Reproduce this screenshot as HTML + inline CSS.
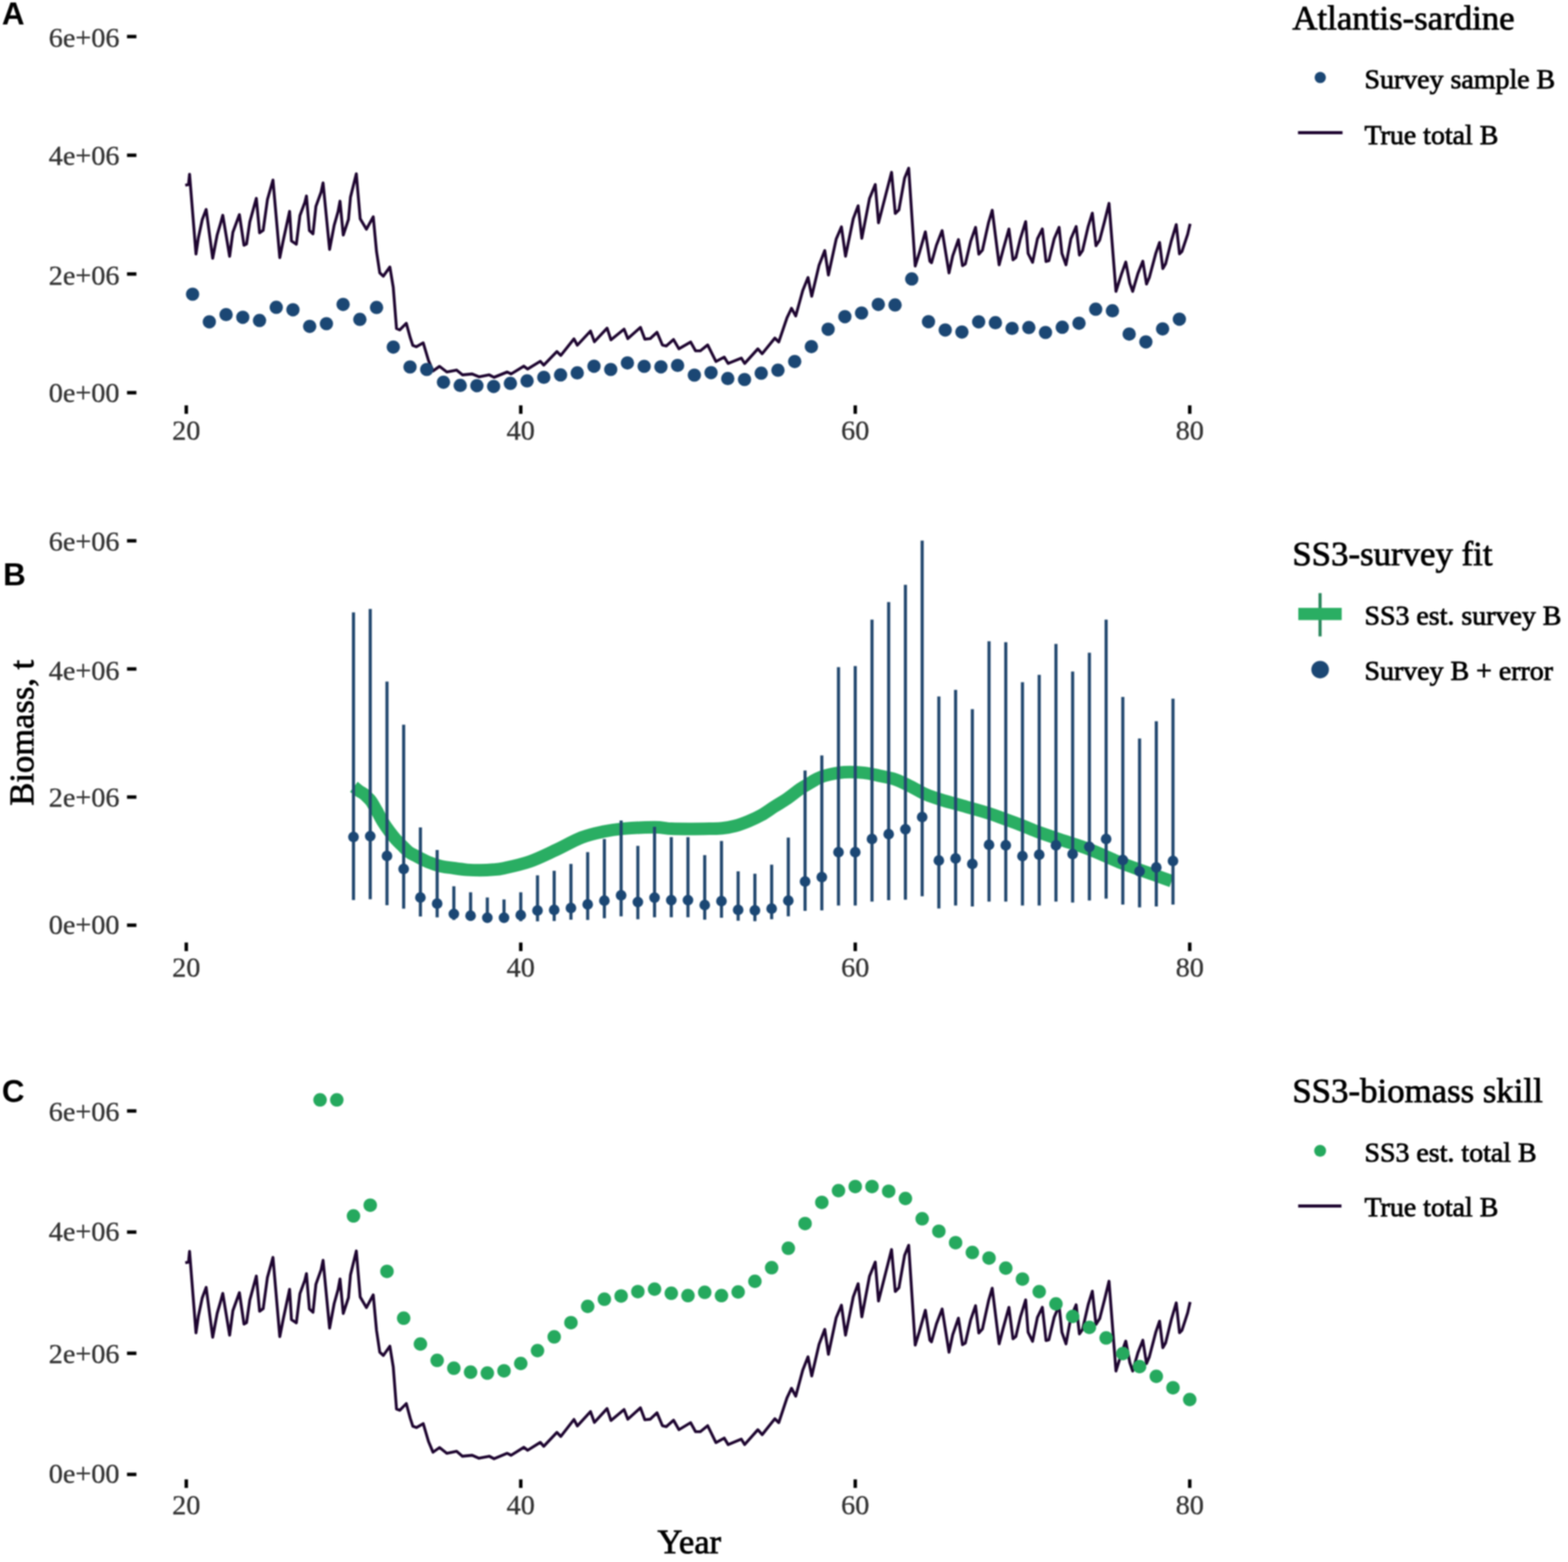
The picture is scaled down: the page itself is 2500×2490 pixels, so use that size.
<!DOCTYPE html><html><head><meta charset="utf-8"><style>html,body{margin:0;padding:0;background:#fff;}svg{display:block;filter:blur(0.8px)}</style></head><body>
<svg xmlns="http://www.w3.org/2000/svg" width="2500" height="2490" viewBox="0 0 2500 2490">
<rect width="2500" height="2490" fill="#fff"/>
<g font-family="Liberation Sans, Arial, sans-serif" font-weight="bold" font-size="50" fill="#000">
<text x="3" y="39">A</text><text x="5" y="933">B</text><text x="3" y="1757">C</text></g>
<g font-family="Liberation Serif, Times New Roman, serif" font-size="45" fill="#333333" stroke="#333333" stroke-width="0.5">
<line x1="202.5" y1="626.0" x2="217.5" y2="626.0" stroke="#000" stroke-width="5.5"/>
<text x="190.5" y="640.6" text-anchor="end">0e+00</text>
<line x1="202.5" y1="436.8" x2="217.5" y2="436.8" stroke="#000" stroke-width="5.5"/>
<text x="190.5" y="453.6" text-anchor="end">2e+06</text>
<line x1="202.5" y1="247.5" x2="217.5" y2="247.5" stroke="#000" stroke-width="5.5"/>
<text x="190.5" y="262.5" text-anchor="end">4e+06</text>
<line x1="202.5" y1="58.3" x2="217.5" y2="58.3" stroke="#000" stroke-width="5.5"/>
<text x="190.5" y="75.2" text-anchor="end">6e+06</text>
<line x1="297" y1="646.2" x2="297" y2="659.7" stroke="#000" stroke-width="5.5"/>
<text x="297" y="700.9" text-anchor="middle">20</text>
<line x1="830.3" y1="646.2" x2="830.3" y2="659.7" stroke="#000" stroke-width="5.5"/>
<text x="830.3" y="700.9" text-anchor="middle">40</text>
<line x1="1363.6" y1="646.2" x2="1363.6" y2="659.7" stroke="#000" stroke-width="5.5"/>
<text x="1363.6" y="700.9" text-anchor="middle">60</text>
<line x1="1896.9" y1="646.2" x2="1896.9" y2="659.7" stroke="#000" stroke-width="5.5"/>
<text x="1896.9" y="700.9" text-anchor="middle">80</text>
<line x1="202.5" y1="1474.9" x2="217.5" y2="1474.9" stroke="#000" stroke-width="5.5"/>
<text x="190.5" y="1488.9" text-anchor="end">0e+00</text>
<line x1="202.5" y1="1270.6" x2="217.5" y2="1270.6" stroke="#000" stroke-width="5.5"/>
<text x="190.5" y="1286.3" text-anchor="end">2e+06</text>
<line x1="202.5" y1="1066.4" x2="217.5" y2="1066.4" stroke="#000" stroke-width="5.5"/>
<text x="190.5" y="1083.9" text-anchor="end">4e+06</text>
<line x1="202.5" y1="862.1" x2="217.5" y2="862.1" stroke="#000" stroke-width="5.5"/>
<text x="190.5" y="877.5" text-anchor="end">6e+06</text>
<line x1="297" y1="1502.5" x2="297" y2="1516.2" stroke="#000" stroke-width="5.5"/>
<text x="297" y="1556.8" text-anchor="middle">20</text>
<line x1="830.3" y1="1502.5" x2="830.3" y2="1516.2" stroke="#000" stroke-width="5.5"/>
<text x="830.3" y="1556.8" text-anchor="middle">40</text>
<line x1="1363.6" y1="1502.5" x2="1363.6" y2="1516.2" stroke="#000" stroke-width="5.5"/>
<text x="1363.6" y="1556.8" text-anchor="middle">60</text>
<line x1="1896.9" y1="1502.5" x2="1896.9" y2="1516.2" stroke="#000" stroke-width="5.5"/>
<text x="1896.9" y="1556.8" text-anchor="middle">80</text>
<line x1="202.5" y1="2350.4" x2="217.5" y2="2350.4" stroke="#000" stroke-width="5.5"/>
<text x="190.5" y="2363.9" text-anchor="end">0e+00</text>
<line x1="202.5" y1="2157.3" x2="217.5" y2="2157.3" stroke="#000" stroke-width="5.5"/>
<text x="190.5" y="2172.5" text-anchor="end">2e+06</text>
<line x1="202.5" y1="1964.1" x2="217.5" y2="1964.1" stroke="#000" stroke-width="5.5"/>
<text x="190.5" y="1977.7" text-anchor="end">4e+06</text>
<line x1="202.5" y1="1771.0" x2="217.5" y2="1771.0" stroke="#000" stroke-width="5.5"/>
<text x="190.5" y="1786.6" text-anchor="end">6e+06</text>
<line x1="297" y1="2358.3" x2="297" y2="2371.9" stroke="#000" stroke-width="5.5"/>
<text x="297" y="2413.8" text-anchor="middle">20</text>
<line x1="830.3" y1="2358.3" x2="830.3" y2="2371.9" stroke="#000" stroke-width="5.5"/>
<text x="830.3" y="2413.8" text-anchor="middle">40</text>
<line x1="1363.6" y1="2358.3" x2="1363.6" y2="2371.9" stroke="#000" stroke-width="5.5"/>
<text x="1363.6" y="2413.8" text-anchor="middle">60</text>
<line x1="1896.9" y1="2358.3" x2="1896.9" y2="2371.9" stroke="#000" stroke-width="5.5"/>
<text x="1896.9" y="2413.8" text-anchor="middle">80</text>
</g>
<g font-family="Liberation Serif, Times New Roman, serif" font-size="55" fill="#000" stroke="#000" stroke-width="1.2">
<text x="1099" y="2476" text-anchor="middle">Year</text>
<text transform="translate(53,1168) rotate(-90)" text-anchor="middle">Biomass, t</text>
</g>
<polyline points="295.4,295.3 300.6,294.3 302.2,277.7 312.5,405.0 316.2,379.5 322.4,350.4 328.7,333.8 339.1,411.8 346.3,374.3 351.5,356.7 355.2,343.2 366.1,408.6 371.3,370.3 381.7,342.1 389.0,391.0 393.1,388.9 398.3,353.6 408.7,316.1 413.9,371.2 419.6,367.1 426.4,318.2 435.2,287.0 446.1,410.7 451.3,384.8 461.7,336.9 464.7,384.1 472.5,389.3 478.2,343.6 486.0,322.8 488.6,312.4 493.3,367.5 499.0,372.7 503.7,329.0 512.0,306.1 515.1,291.6 525.5,397.6 532.8,359.1 539.0,337.3 542.1,320.7 547.3,374.7 555.6,349.8 558.8,314.4 568.1,277.0 574.3,348.8 584.2,365.4 595.1,345.6 600.3,400.7 605.5,435.0 611.2,440.2 621.6,425.7 627.0,458.2 632.2,523.7 637.4,525.8 647.8,515.4 654.1,538.3 658.2,550.7 663.9,552.8 674.8,546.6 683.2,574.6 690.4,591.3 700.8,584.0 712.4,593.0 728.0,589.9 737.3,597.6 752.8,596.1 763.7,600.7 780.0,597.6 787.7,601.5 808.7,593.0 814.9,596.1 835.1,583.7 841.3,588.3 861.5,575.9 866.9,582.1 887.9,560.4 894.1,566.6 915.1,540.2 920.5,550.3 941.5,527.8 947.7,544.8 967.9,523.1 974.1,541.7 995.0,524.7 1001.0,539.8 1021.1,521.9 1028.1,540.6 1036.7,539.8 1047.5,529.7 1056.1,549.9 1062.3,551.4 1073.9,541.3 1082.5,556.1 1101.1,545.2 1108.9,559.2 1116.6,559.2 1128.3,549.9 1141.5,576.3 1154.7,569.3 1160.9,579.4 1181.9,570.8 1187.3,579.4 1208.3,556.1 1215.2,563.9 1235.4,539.0 1241.6,545.2 1254.8,506.4 1262.0,491.5 1268.7,503.7 1279.9,463.1 1288.3,442.3 1294.2,472.2 1305.9,422.8 1315.0,399.4 1320.8,438.4 1333.2,381.2 1341.6,361.7 1348.1,408.5 1360.4,348.8 1368.2,328.0 1374.1,379.9 1386.4,316.3 1395.5,294.2 1400.7,355.2 1412.4,309.8 1421.5,274.7 1427.4,340.3 1433.2,334.5 1442.3,283.8 1448.8,268.2 1459.2,424.1 1465.7,403.3 1475.4,369.5 1482.6,416.3 1485.2,418.9 1493.0,391.0 1502.1,367.6 1513.1,435.1 1519.0,407.9 1528.1,381.9 1534.6,423.4 1539.1,420.8 1547.6,384.5 1555.4,362.4 1560.6,405.2 1566.4,398.8 1576.2,354.6 1582.0,335.1 1593.0,422.1 1599.5,397.5 1608.6,365.0 1615.1,414.3 1619.7,410.4 1626.8,380.6 1635.3,353.3 1639.2,404.0 1646.3,418.2 1654.1,380.6 1661.9,365.0 1667.8,416.9 1672.3,415.6 1680.8,380.6 1688.6,362.4 1693.1,404.0 1699.6,422.1 1707.4,380.6 1715.8,361.1 1721.0,406.6 1726.0,399.5 1735.1,360.6 1741.6,339.8 1747.4,391.7 1753.3,382.7 1761.1,352.8 1768.2,324.2 1779.3,464.5 1788.4,435.9 1794.9,417.7 1801.4,451.5 1805.9,464.5 1814.3,435.9 1822.1,416.4 1828.0,452.8 1832.5,442.4 1842.9,403.4 1848.8,386.5 1854.0,428.1 1858.5,420.3 1867.6,384.0 1875.4,358.0 1880.6,404.7 1884.5,400.8 1893.6,373.6 1897.5,356.7" fill="none" stroke="#1e0530" stroke-width="4.6" stroke-linejoin="round" stroke-linecap="butt"/>
<g fill="#1b4774"><circle cx="307.1" cy="469.0" r="10.6"/><circle cx="333.8" cy="513.1" r="10.6"/><circle cx="360.5" cy="501.5" r="10.6"/><circle cx="387.1" cy="505.8" r="10.6"/><circle cx="413.8" cy="510.9" r="10.6"/><circle cx="440.5" cy="489.9" r="10.6"/><circle cx="467.1" cy="493.8" r="10.6"/><circle cx="493.8" cy="520.3" r="10.6"/><circle cx="520.5" cy="516.0" r="10.6"/><circle cx="547.1" cy="485.3" r="10.6"/><circle cx="573.8" cy="509.2" r="10.6"/><circle cx="600.4" cy="490.2" r="10.6"/><circle cx="627.1" cy="553.3" r="10.6"/><circle cx="653.8" cy="585.0" r="10.6"/><circle cx="680.4" cy="589.0" r="10.6"/><circle cx="707.1" cy="609.3" r="10.6"/><circle cx="733.8" cy="614.4" r="10.6"/><circle cx="760.4" cy="614.8" r="10.6"/><circle cx="787.1" cy="616.1" r="10.6"/><circle cx="813.8" cy="611.2" r="10.6"/><circle cx="840.4" cy="607.2" r="10.6"/><circle cx="867.1" cy="601.5" r="10.6"/><circle cx="893.8" cy="597.7" r="10.6"/><circle cx="920.4" cy="594.4" r="10.6"/><circle cx="947.1" cy="583.8" r="10.6"/><circle cx="973.8" cy="589.0" r="10.6"/><circle cx="1000.4" cy="578.6" r="10.6"/><circle cx="1027.1" cy="584.0" r="10.6"/><circle cx="1053.8" cy="584.8" r="10.6"/><circle cx="1080.4" cy="582.5" r="10.6"/><circle cx="1107.1" cy="598.0" r="10.6"/><circle cx="1133.7" cy="594.1" r="10.6"/><circle cx="1160.4" cy="603.4" r="10.6"/><circle cx="1187.1" cy="605.0" r="10.6"/><circle cx="1213.7" cy="594.9" r="10.6"/><circle cx="1240.4" cy="590.2" r="10.6"/><circle cx="1267.1" cy="576.3" r="10.6"/><circle cx="1293.7" cy="552.6" r="10.6"/><circle cx="1320.4" cy="524.8" r="10.6"/><circle cx="1347.1" cy="504.8" r="10.6"/><circle cx="1373.7" cy="499.0" r="10.6"/><circle cx="1400.4" cy="485.3" r="10.6"/><circle cx="1427.1" cy="486.2" r="10.6"/><circle cx="1453.7" cy="444.7" r="10.6"/><circle cx="1480.4" cy="512.8" r="10.6"/><circle cx="1507.1" cy="526.1" r="10.6"/><circle cx="1533.7" cy="529.3" r="10.6"/><circle cx="1560.4" cy="513.1" r="10.6"/><circle cx="1587.1" cy="514.4" r="10.6"/><circle cx="1613.7" cy="523.5" r="10.6"/><circle cx="1640.4" cy="522.2" r="10.6"/><circle cx="1667.0" cy="530.0" r="10.6"/><circle cx="1693.7" cy="521.7" r="10.6"/><circle cx="1720.4" cy="515.3" r="10.6"/><circle cx="1747.0" cy="492.9" r="10.6"/><circle cx="1773.7" cy="495.4" r="10.6"/><circle cx="1800.4" cy="532.6" r="10.6"/><circle cx="1827.0" cy="545.1" r="10.6"/><circle cx="1853.7" cy="524.3" r="10.6"/><circle cx="1880.4" cy="508.8" r="10.6"/></g>
<path d="M564.2,1254.3 C565.5,1255.3 569.0,1258.3 571.8,1260.3 C574.6,1262.3 578.5,1264.2 580.9,1266.1 C583.3,1268.0 584.6,1269.7 586.4,1271.5 C588.2,1273.3 589.4,1273.8 591.8,1277.2 C594.1,1280.6 597.4,1286.5 600.5,1292.0 C603.6,1297.5 607.0,1304.5 610.4,1310.0 C613.8,1315.5 617.2,1320.3 620.7,1325.0 C624.2,1329.7 627.7,1334.1 631.1,1338.0 C634.5,1341.9 638.0,1344.9 641.4,1348.3 C644.8,1351.7 648.3,1355.6 651.8,1358.2 C655.2,1360.8 656.9,1361.2 662.1,1363.9 C667.3,1366.6 675.9,1371.4 682.8,1374.2 C689.7,1377.0 696.6,1379.3 703.5,1380.9 C710.4,1382.5 717.3,1383.0 724.2,1384.0 C731.1,1385.0 738.0,1386.0 744.9,1386.6 C751.8,1387.1 758.7,1387.3 765.6,1387.3 C772.5,1387.2 780.2,1386.8 786.3,1386.3 C792.4,1385.8 792.8,1386.3 802.4,1384.2 C812.0,1382.1 830.1,1378.4 844.0,1373.6 C857.9,1368.8 871.6,1361.8 885.5,1355.4 C899.4,1349.0 914.5,1340.0 927.1,1335.1 C939.7,1330.2 950.3,1328.1 961.2,1325.8 C972.1,1323.5 978.6,1322.3 992.4,1321.1 C1006.2,1319.9 1030.8,1318.8 1043.8,1318.8 C1056.8,1318.8 1060.7,1320.6 1070.3,1321.1 C1079.9,1321.5 1091.4,1321.5 1101.5,1321.5 C1111.6,1321.5 1122.7,1321.3 1131.1,1321.1 C1139.5,1320.9 1144.9,1321.1 1151.8,1320.3 C1158.7,1319.5 1165.6,1318.3 1172.5,1316.5 C1179.4,1314.7 1186.3,1312.0 1193.2,1309.2 C1200.1,1306.4 1207.0,1303.3 1213.9,1299.4 C1220.8,1295.5 1227.7,1290.3 1234.6,1285.9 C1241.5,1281.5 1248.4,1277.7 1255.3,1273.0 C1262.2,1268.3 1270.2,1261.5 1276.0,1257.5 C1281.8,1253.5 1286.0,1251.4 1290.0,1249.0 C1294.0,1246.6 1295.9,1245.1 1300.0,1243.0 C1304.1,1240.9 1307.1,1238.6 1314.8,1236.6 C1322.5,1234.6 1335.5,1231.8 1345.9,1231.0 C1356.3,1230.2 1367.7,1231.0 1377.0,1231.9 C1386.3,1232.8 1393.5,1234.9 1401.8,1236.6 C1410.1,1238.3 1418.3,1239.4 1426.6,1242.2 C1434.9,1245.0 1443.2,1249.4 1451.5,1253.4 C1459.8,1257.4 1468.0,1262.8 1476.3,1266.4 C1484.6,1270.0 1492.2,1272.3 1501.2,1275.1 C1510.2,1277.9 1517.2,1279.6 1530.0,1283.2 C1542.8,1286.8 1562.1,1291.8 1577.9,1296.9 C1593.7,1302.1 1611.7,1309.2 1624.7,1314.1 C1637.7,1319.0 1645.0,1322.5 1655.9,1326.5 C1666.8,1330.5 1676.5,1333.7 1690.0,1338.2 C1703.5,1342.8 1720.2,1347.4 1736.8,1353.8 C1753.4,1360.2 1772.0,1369.5 1789.8,1376.5 C1807.6,1383.5 1830.5,1391.2 1843.5,1395.9 C1856.5,1400.6 1863.9,1403.2 1868.0,1404.7" fill="none" stroke="#2aae63" stroke-width="20" stroke-linejoin="round" stroke-linecap="butt"/>
<g stroke="#22486f" stroke-width="5" stroke-linecap="butt"><line x1="563.6" y1="976.2" x2="563.6" y2="1434.8"/><line x1="590.3" y1="970.7" x2="590.3" y2="1433.5"/><line x1="617.0" y1="1086.4" x2="617.0" y2="1443.1"/><line x1="643.6" y1="1155.2" x2="643.6" y2="1448.6"/><line x1="670.3" y1="1319.1" x2="670.3" y2="1461"/><line x1="697.0" y1="1355" x2="697.0" y2="1462.4"/><line x1="723.6" y1="1412.8" x2="723.6" y2="1466.5"/><line x1="750.3" y1="1422.4" x2="750.3" y2="1468"/><line x1="777.0" y1="1430.7" x2="777.0" y2="1469"/><line x1="803.6" y1="1433.8" x2="803.6" y2="1469"/><line x1="830.3" y1="1422.4" x2="830.3" y2="1468.5"/><line x1="857.0" y1="1395.4" x2="857.0" y2="1468.7"/><line x1="883.6" y1="1388.1" x2="883.6" y2="1468.2"/><line x1="910.3" y1="1377.2" x2="910.3" y2="1466.1"/><line x1="937.0" y1="1358.4" x2="937.0" y2="1466.5"/><line x1="963.6" y1="1337.5" x2="963.6" y2="1463.8"/><line x1="990.3" y1="1307.9" x2="990.3" y2="1460.7"/><line x1="1017.0" y1="1348.4" x2="1017.0" y2="1465.4"/><line x1="1043.6" y1="1318" x2="1043.6" y2="1462.2"/><line x1="1070.3" y1="1334.4" x2="1070.3" y2="1462.2"/><line x1="1096.9" y1="1334.4" x2="1096.9" y2="1462.2"/><line x1="1123.6" y1="1363.2" x2="1123.6" y2="1466.1"/><line x1="1150.3" y1="1340.6" x2="1150.3" y2="1463"/><line x1="1176.9" y1="1389" x2="1176.9" y2="1467.7"/><line x1="1203.6" y1="1392.8" x2="1203.6" y2="1468.5"/><line x1="1230.3" y1="1378.4" x2="1230.3" y2="1465.4"/><line x1="1256.9" y1="1335.2" x2="1256.9" y2="1460.7"/><line x1="1283.6" y1="1228.3" x2="1283.6" y2="1452.1"/><line x1="1310.3" y1="1204.2" x2="1310.3" y2="1451.3"/><line x1="1336.9" y1="1063.5" x2="1336.9" y2="1443.5"/><line x1="1363.6" y1="1061.7" x2="1363.6" y2="1443.5"/><line x1="1390.3" y1="987.8" x2="1390.3" y2="1437.3"/><line x1="1416.9" y1="959.7" x2="1416.9" y2="1435"/><line x1="1443.6" y1="932.2" x2="1443.6" y2="1434.2"/><line x1="1470.3" y1="861.8" x2="1470.3" y2="1428.7"/><line x1="1496.9" y1="1110.3" x2="1496.9" y2="1448.2"/><line x1="1523.6" y1="1099.8" x2="1523.6" y2="1443.4"/><line x1="1550.3" y1="1130.4" x2="1550.3" y2="1445"/><line x1="1576.9" y1="1022.3" x2="1576.9" y2="1437.2"/><line x1="1603.6" y1="1023.7" x2="1603.6" y2="1437.2"/><line x1="1630.2" y1="1087.4" x2="1630.2" y2="1443.4"/><line x1="1656.9" y1="1075.8" x2="1656.9" y2="1443.4"/><line x1="1683.6" y1="1026.5" x2="1683.6" y2="1437.2"/><line x1="1710.2" y1="1070.5" x2="1710.2" y2="1438.8"/><line x1="1736.9" y1="1040.6" x2="1736.9" y2="1435.6"/><line x1="1763.6" y1="987.8" x2="1763.6" y2="1432.5"/><line x1="1790.2" y1="1111" x2="1790.2" y2="1441.9"/><line x1="1816.9" y1="1177.2" x2="1816.9" y2="1446.6"/><line x1="1843.6" y1="1149.7" x2="1843.6" y2="1445"/><line x1="1870.2" y1="1113.8" x2="1870.2" y2="1441.9"/></g>
<g fill="#1b4774"><circle cx="563.6" cy="1334.3" r="8.5"/><circle cx="590.3" cy="1332.9" r="8.5"/><circle cx="617.0" cy="1364.6" r="8.5"/><circle cx="643.6" cy="1385.3" r="8.5"/><circle cx="670.3" cy="1430.7" r="8.5"/><circle cx="697.0" cy="1440.4" r="8.5"/><circle cx="723.6" cy="1456.9" r="8.5"/><circle cx="750.3" cy="1459.8" r="8.5"/><circle cx="777.0" cy="1463" r="8.5"/><circle cx="803.6" cy="1463" r="8.5"/><circle cx="830.3" cy="1458.8" r="8.5"/><circle cx="857.0" cy="1451.5" r="8.5"/><circle cx="883.6" cy="1450.5" r="8.5"/><circle cx="910.3" cy="1447.4" r="8.5"/><circle cx="937.0" cy="1441.7" r="8.5"/><circle cx="963.6" cy="1435.7" r="8.5"/><circle cx="990.3" cy="1427.2" r="8.5"/><circle cx="1017.0" cy="1438.1" r="8.5"/><circle cx="1043.6" cy="1431" r="8.5"/><circle cx="1070.3" cy="1435" r="8.5"/><circle cx="1096.9" cy="1435" r="8.5"/><circle cx="1123.6" cy="1442.7" r="8.5"/><circle cx="1150.3" cy="1436.5" r="8.5"/><circle cx="1176.9" cy="1450.5" r="8.5"/><circle cx="1203.6" cy="1451.3" r="8.5"/><circle cx="1230.3" cy="1448.6" r="8.5"/><circle cx="1256.9" cy="1435.7" r="8.5"/><circle cx="1283.6" cy="1405.3" r="8.5"/><circle cx="1310.3" cy="1398.3" r="8.5"/><circle cx="1336.9" cy="1358.5" r="8.5"/><circle cx="1363.6" cy="1358.5" r="8.5"/><circle cx="1390.3" cy="1337.5" r="8.5"/><circle cx="1416.9" cy="1329.7" r="8.5"/><circle cx="1443.6" cy="1321.9" r="8.5"/><circle cx="1470.3" cy="1302.4" r="8.5"/><circle cx="1496.9" cy="1371.8" r="8.5"/><circle cx="1523.6" cy="1368.6" r="8.5"/><circle cx="1550.3" cy="1377.2" r="8.5"/><circle cx="1576.9" cy="1346.8" r="8.5"/><circle cx="1603.6" cy="1347.6" r="8.5"/><circle cx="1630.2" cy="1364.7" r="8.5"/><circle cx="1656.9" cy="1362.4" r="8.5"/><circle cx="1683.6" cy="1347.6" r="8.5"/><circle cx="1710.2" cy="1361.6" r="8.5"/><circle cx="1736.9" cy="1349.9" r="8.5"/><circle cx="1763.6" cy="1337.4" r="8.5"/><circle cx="1790.2" cy="1371" r="8.5"/><circle cx="1816.9" cy="1388.9" r="8.5"/><circle cx="1843.6" cy="1382.7" r="8.5"/><circle cx="1870.2" cy="1372.5" r="8.5"/></g>
<polyline points="295.4,2012.9 300.6,2011.9 302.2,1994.9 312.5,2124.8 316.2,2098.8 322.4,2069.1 328.7,2052.2 339.1,2131.8 346.3,2093.5 351.5,2075.5 355.2,2061.8 366.1,2128.5 371.3,2089.4 381.7,2060.6 389.0,2110.6 393.1,2108.4 398.3,2072.4 408.7,2034.1 413.9,2090.3 419.6,2086.2 426.4,2036.3 435.2,2004.4 446.1,2130.7 451.3,2104.2 461.7,2055.3 464.7,2103.5 472.5,2108.8 478.2,2062.2 486.0,2041.0 488.6,2030.3 493.3,2086.6 499.0,2091.9 503.7,2047.3 512.0,2023.9 515.1,2009.1 525.5,2117.3 532.8,2078.0 539.0,2055.8 542.1,2038.8 547.3,2093.9 555.6,2068.5 558.8,2032.4 568.1,1994.2 574.3,2067.5 584.2,2084.4 595.1,2064.2 600.3,2120.5 605.5,2155.5 611.2,2160.8 621.6,2146.0 627.0,2179.1 632.2,2246.0 637.4,2248.1 647.8,2237.5 654.1,2260.9 658.2,2273.5 663.9,2275.7 674.8,2269.4 683.2,2297.9 690.4,2315.0 700.8,2307.5 712.4,2316.7 728.0,2313.6 737.3,2321.4 752.8,2319.9 763.7,2324.6 780.0,2321.4 787.7,2325.4 808.7,2316.7 814.9,2319.9 835.1,2307.2 841.3,2311.9 861.5,2299.3 866.9,2305.6 887.9,2283.4 894.1,2289.8 915.1,2262.8 920.5,2273.1 941.5,2250.2 947.7,2267.5 967.9,2245.4 974.1,2264.4 995.0,2247.0 1001.0,2262.4 1021.1,2244.2 1028.1,2263.2 1036.7,2262.4 1047.5,2252.1 1056.1,2272.7 1062.3,2274.3 1073.9,2264.0 1082.5,2279.1 1101.1,2267.9 1108.9,2282.2 1116.6,2282.2 1128.3,2272.7 1141.5,2299.7 1154.7,2292.5 1160.9,2302.8 1181.9,2294.1 1187.3,2302.8 1208.3,2279.1 1215.2,2287.0 1235.4,2261.6 1241.6,2267.9 1254.8,2228.3 1262.0,2213.1 1268.7,2225.6 1279.9,2184.1 1288.3,2162.9 1294.2,2193.4 1305.9,2143.0 1315.0,2119.1 1320.8,2158.9 1333.2,2100.6 1341.6,2080.7 1348.1,2128.4 1360.4,2067.5 1368.2,2046.3 1374.1,2099.2 1386.4,2034.3 1395.5,2011.8 1400.7,2074.0 1412.4,2027.7 1421.5,1991.9 1427.4,2058.8 1433.2,2052.9 1442.3,2001.1 1448.8,1985.2 1459.2,2144.3 1465.7,2123.1 1475.4,2088.6 1482.6,2136.4 1485.2,2139.0 1493.0,2110.6 1502.1,2086.7 1513.1,2155.6 1519.0,2127.8 1528.1,2101.3 1534.6,2143.6 1539.1,2141.0 1547.6,2103.9 1555.4,2081.4 1560.6,2125.0 1566.4,2118.5 1576.2,2073.4 1582.0,2053.5 1593.0,2142.3 1599.5,2117.2 1608.6,2084.0 1615.1,2134.3 1619.7,2130.4 1626.8,2099.9 1635.3,2072.1 1639.2,2123.8 1646.3,2138.3 1654.1,2099.9 1661.9,2084.0 1667.8,2137.0 1672.3,2135.7 1680.8,2099.9 1688.6,2081.4 1693.1,2123.8 1699.6,2142.3 1707.4,2099.9 1715.8,2080.0 1721.0,2126.5 1726.0,2119.2 1735.1,2079.5 1741.6,2058.3 1747.4,2111.3 1753.3,2102.1 1761.1,2071.6 1768.2,2042.4 1779.3,2185.6 1788.4,2156.4 1794.9,2137.8 1801.4,2172.3 1805.9,2185.6 1814.3,2156.4 1822.1,2136.5 1828.0,2173.6 1832.5,2163.0 1842.9,2123.2 1848.8,2106.0 1854.0,2148.4 1858.5,2140.5 1867.6,2103.4 1875.4,2076.9 1880.6,2124.5 1884.5,2120.6 1893.6,2092.8 1897.5,2075.5" fill="none" stroke="#1e0530" stroke-width="4.6" stroke-linejoin="round" stroke-linecap="butt"/>
<g fill="#25a95e"><circle cx="510.3" cy="1753.3" r="10.75"/><circle cx="537.0" cy="1753.3" r="10.75"/><circle cx="563.6" cy="1938.3" r="10.75"/><circle cx="590.3" cy="1921.2" r="10.75"/><circle cx="617.0" cy="2026.7" r="10.75"/><circle cx="643.6" cy="2101.3" r="10.75"/><circle cx="670.3" cy="2142.5" r="10.75"/><circle cx="697.0" cy="2168.6" r="10.75"/><circle cx="723.6" cy="2181.1" r="10.75"/><circle cx="750.3" cy="2187.3" r="10.75"/><circle cx="777.0" cy="2188.8" r="10.75"/><circle cx="803.6" cy="2185.2" r="10.75"/><circle cx="830.3" cy="2173.5" r="10.75"/><circle cx="857.0" cy="2153" r="10.75"/><circle cx="883.6" cy="2131.1" r="10.75"/><circle cx="910.3" cy="2108.4" r="10.75"/><circle cx="937.0" cy="2082.5" r="10.75"/><circle cx="963.6" cy="2071.1" r="10.75"/><circle cx="990.3" cy="2065.9" r="10.75"/><circle cx="1017.0" cy="2058.9" r="10.75"/><circle cx="1043.6" cy="2055" r="10.75"/><circle cx="1070.3" cy="2061.6" r="10.75"/><circle cx="1096.9" cy="2065.3" r="10.75"/><circle cx="1123.6" cy="2060.1" r="10.75"/><circle cx="1150.3" cy="2065.3" r="10.75"/><circle cx="1176.9" cy="2059.5" r="10.75"/><circle cx="1203.6" cy="2042.5" r="10.75"/><circle cx="1230.3" cy="2020.8" r="10.75"/><circle cx="1256.9" cy="1989.8" r="10.75"/><circle cx="1283.6" cy="1950.4" r="10.75"/><circle cx="1310.3" cy="1916.7" r="10.75"/><circle cx="1336.9" cy="1898" r="10.75"/><circle cx="1363.6" cy="1891.4" r="10.75"/><circle cx="1390.3" cy="1891.4" r="10.75"/><circle cx="1416.9" cy="1898.9" r="10.75"/><circle cx="1443.6" cy="1910.5" r="10.75"/><circle cx="1470.3" cy="1942.8" r="10.75"/><circle cx="1496.9" cy="1962.7" r="10.75"/><circle cx="1523.6" cy="1980.9" r="10.75"/><circle cx="1550.3" cy="1996.6" r="10.75"/><circle cx="1576.9" cy="2005.4" r="10.75"/><circle cx="1603.6" cy="2021.5" r="10.75"/><circle cx="1630.2" cy="2038.9" r="10.75"/><circle cx="1656.9" cy="2059" r="10.75"/><circle cx="1683.6" cy="2078.5" r="10.75"/><circle cx="1710.2" cy="2098.5" r="10.75"/><circle cx="1736.9" cy="2116" r="10.75"/><circle cx="1763.6" cy="2132.8" r="10.75"/><circle cx="1790.2" cy="2157.7" r="10.75"/><circle cx="1816.9" cy="2178.5" r="10.75"/><circle cx="1843.6" cy="2194" r="10.75"/><circle cx="1870.2" cy="2212.2" r="10.75"/><circle cx="1896.9" cy="2231" r="10.75"/></g>
<g font-family="Liberation Serif, Times New Roman, serif" fill="#000" stroke="#000" stroke-width="1.2">
<text x="2060.5" y="46.6" font-size="55.5">Atlantis-sardine</text>
<text x="2175.5" y="141.3" font-size="44.5">Survey sample B</text>
<text x="2175.5" y="229.8" font-size="44.5">True total B</text>
<text x="2060.5" y="900.7" font-size="55.5">SS3-survey fit</text>
<text x="2175.5" y="996" font-size="44.5">SS3 est. survey B</text>
<text x="2175.5" y="1084" font-size="44.5">Survey B + error</text>
<text x="2060.5" y="1757.1" font-size="55.5">SS3-biomass skill</text>
<text x="2175.5" y="1852.4" font-size="44.5">SS3 est. total B</text>
<text x="2175.5" y="1939.3" font-size="44.5">True total B</text>
</g>
<circle cx="2105" cy="123.6" r="9" fill="#1b4774"/>
<line x1="2069.5" y1="211.5" x2="2140.5" y2="211.5" stroke="#1e0530" stroke-width="5"/>
<line x1="2104.7" y1="945.5" x2="2104.7" y2="1014.5" stroke="#2a875c" stroke-width="5"/>
<line x1="2070" y1="978.7" x2="2139.2" y2="978.7" stroke="#2aae63" stroke-width="19.5"/>
<circle cx="2104.8" cy="1067.4" r="14" fill="#1b4774"/>
<circle cx="2104.8" cy="1834.5" r="9.5" fill="#25a95e"/>
<line x1="2069.8" y1="1922.6" x2="2138.8" y2="1922.6" stroke="#1e0530" stroke-width="5"/>
</svg></body></html>
